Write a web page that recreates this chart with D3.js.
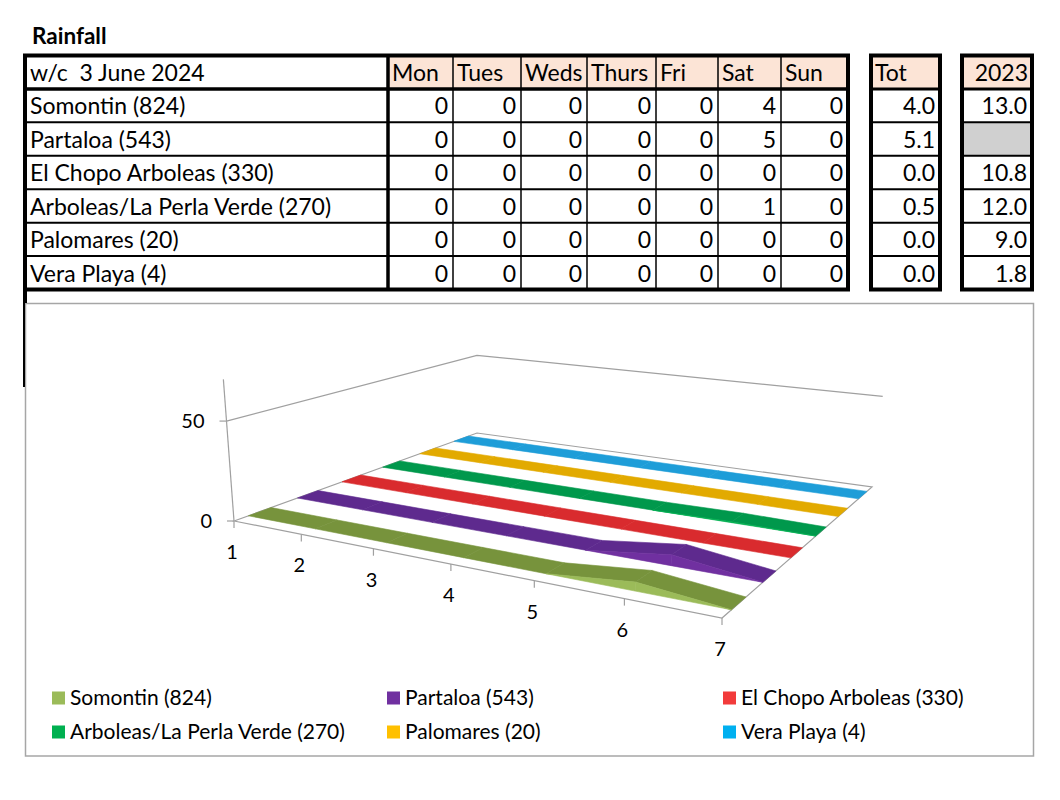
<!DOCTYPE html>
<html>
<head>
<meta charset="utf-8">
<script src="https://cdn.jsdelivr.net/npm/d3@7"></script>
<style>
  body { margin: 0; background: #fff; }
  svg text { font-family: Lato, "Open Sans", sans-serif; fill: #000; }
</style>
</head>
<body>
<svg id="chart" width="1060" height="800"></svg>
<script>
// ---- data (daily cells are shown rounded to whole mm) ----
const days = ["Mon", "Tues", "Weds", "Thurs", "Fri", "Sat", "Sun"];
const stations = ["Somontin (824)", "Partaloa (543)", "El Chopo Arboleas (330)",
  "Arboleas/La Perla Verde (270)", "Palomares (20)", "Vera Playa (4)"];
const somontin  = [0, 0, 0, 0, 0, 4.0, 0];
const partaloa  = [0, 0, 0, 0, 0, 5.1, 0];
const elChopo   = [0, 0, 0, 0, 0, 0, 0];
const arboleas  = [0, 0, 0, 0, 0, 0.5, 0];
const palomares = [0, 0, 0, 0, 0, 0, 0];
const veraPlaya = [0, 0, 0, 0, 0, 0, 0];
const weekTotals = [4.0, 5.1, 0.0, 0.5, 0.0, 0.0];
const totals2023 = [13.0, null, 10.8, 12.0, 9.0, 1.8];
const categoryLabels = ["1", "2", "3", "4", "5", "6", "7"];
const valueTicks = [0, 50];
const valueMax = 70;

const seriesValues = [somontin, partaloa, elChopo, arboleas, palomares, veraPlaya];
const legendColors = ["#9BBB59", "#7030A0", "#F23B3B", "#00B050", "#FFC000", "#00B0F0"];
const ribbonColors = ["#77933C", "#5E2A8E", "#D92B2E", "#00984C", "#E2AA00", "#1E9DD8"];

const svg = d3.select("#chart");
const fmtDay = d3.format(".0f"), fmtTot = d3.format(".1f");

svg.append("text").attr("x", 32).attr("y", 44)
  .style("font-size", "22.5px").style("font-weight", "bold").text("Rainfall");

// ---- table ----
const dayEdges = [388, 453, 521, 587, 656, 718, 781, 848];
const tableLeft = 25;
const totBox = [871, 940];
const box2023 = [962, 1032];
const rowY = d3.scaleLinear().domain([0, 7]).range([55.5, 289.5]);
const headFill = "#FCE4D6";

// header fills
svg.selectAll(".dayhead").data(days).enter().append("rect")
  .attr("x", (d, i) => dayEdges[i]).attr("y", rowY(0))
  .attr("width", (d, i) => dayEdges[i + 1] - dayEdges[i]).attr("height", rowY(1) - rowY(0))
  .attr("fill", headFill);
[totBox, box2023].forEach(b => {
  svg.append("rect").attr("x", b[0]).attr("y", rowY(0))
    .attr("width", b[1] - b[0]).attr("height", rowY(1) - rowY(0)).attr("fill", headFill);
});
// empty 2023 cell is greyed
totals2023.forEach((v, i) => {
  if (v === null) {
    svg.append("rect").attr("x", box2023[0]).attr("y", rowY(i + 1))
      .attr("width", box2023[1] - box2023[0]).attr("height", rowY(i + 2) - rowY(i + 1))
      .attr("fill", "#D0D0D0");
  }
});

// chart frame (drawn before the stray table border so that stays on top)
svg.append("rect").attr("x", 25.5).attr("y", 303.5).attr("width", 1008).attr("height", 452.5)
  .attr("fill", "#fff").attr("stroke", "#A6A6A6").attr("stroke-width", 1.5);

const lines = svg.append("g").attr("stroke", "#000").attr("fill", "none");
function hline(x1, x2, y, w) {
  lines.append("line").attr("x1", x1).attr("x2", x2).attr("y1", y).attr("y2", y).attr("stroke-width", w);
}
function vline(x, y1, y2, w) {
  lines.append("line").attr("x1", x).attr("x2", x).attr("y1", y1).attr("y2", y2).attr("stroke-width", w);
}
// main table grid
for (let r = 2; r < 7; r++) hline(tableLeft, dayEdges[7], rowY(r), 2);
hline(tableLeft, dayEdges[7], rowY(1), 3.5);
for (let c = 1; c < 7; c++) vline(dayEdges[c], rowY(0), rowY(7), 1.5);
vline(dayEdges[0], rowY(0), rowY(7), 3.5);
lines.append("rect").attr("x", tableLeft).attr("y", rowY(0))
  .attr("width", dayEdges[7] - tableLeft).attr("height", rowY(7) - rowY(0)).attr("stroke-width", 4);
vline(tableLeft, rowY(7), 303, 4);
vline(24, 303, 387, 2);
// Tot and 2023 boxes
[totBox, box2023].forEach(b => {
  for (let r = 2; r < 7; r++) hline(b[0], b[1], rowY(r), 2);
  hline(b[0], b[1], rowY(1), 3);
  lines.append("rect").attr("x", b[0]).attr("y", rowY(0))
    .attr("width", b[1] - b[0]).attr("height", rowY(7) - rowY(0)).attr("stroke-width", 4);
});

// table texts
const tfs = "23px";
const base = i => rowY(i) + 25.5;
svg.append("text").attr("x", 30).attr("y", base(0)).style("font-size", tfs)
  .style("white-space", "pre").text("w/c  3 June 2024");
svg.selectAll(".dayname").data(days).enter().append("text")
  .attr("x", (d, i) => dayEdges[i] + 4).attr("y", base(0)).style("font-size", tfs).text(d => d);
svg.append("text").attr("x", totBox[0] + 4).attr("y", base(0)).style("font-size", tfs).text("Tot");
svg.append("text").attr("x", box2023[1] - 4).attr("y", base(0)).attr("text-anchor", "end")
  .style("font-size", tfs).text("2023");

const rows = svg.selectAll(".row").data(stations).enter().append("g");
rows.append("text").attr("x", 30).attr("y", (d, i) => base(i + 1)).style("font-size", tfs).text(d => d);
rows.each(function (d, i) {
  d3.select(this).selectAll(".val").data(seriesValues[i]).enter().append("text")
    .attr("x", (v, j) => dayEdges[j + 1] - 5).attr("y", base(i + 1))
    .attr("text-anchor", "end").style("font-size", tfs).text(v => fmtDay(v));
  d3.select(this).append("text").attr("x", totBox[1] - 5).attr("y", base(i + 1))
    .attr("text-anchor", "end").style("font-size", tfs).text(fmtTot(weekTotals[i]));
  if (totals2023[i] !== null) {
    d3.select(this).append("text").attr("x", box2023[1] - 5).attr("y", base(i + 1))
      .attr("text-anchor", "end").style("font-size", tfs).text(fmtTot(totals2023[i]));
  }
});

// ---- 3D line chart ----
// floor corners on screen: u runs along the days, w runs back through the series
const FL = [234, 521], FR = [722, 618], BR = [872, 487], BL = [477, 433];
const dx1 = FR[0] - BR[0], dx2 = BL[0] - BR[0], dx3 = FL[0] - FR[0] + BR[0] - BL[0];
const dy1 = FR[1] - BR[1], dy2 = BL[1] - BR[1], dy3 = FL[1] - FR[1] + BR[1] - BL[1];
const det = dx1 * dy2 - dx2 * dy1;
const g = (dx3 * dy2 - dx2 * dy3) / det;
const h = (dx1 * dy3 - dx3 * dy1) / det;
const a = FR[0] - FL[0] + g * FR[0], b = BL[0] - FL[0] + h * BL[0], c = FL[0];
const d_ = FR[1] - FL[1] + g * FR[1], e = BL[1] - FL[1] + h * BL[1], f = FL[1];
// verticals meet far below (camera looks down)
const VP = [480, 3800];
const distFL = Math.hypot(VP[0] - FL[0], VP[1] - FL[1]);
const kTop = -(142 / distFL);          // full value axis is ~142px tall at the front corner
const sH = kTop / (1 - kTop);

function project(u, v, w) {
  const den = g * u + h * w + 1;
  const xf = (a * u + b * w + c) / den, yf = (d_ * u + e * w + f) / den;
  const t = v * sH / den, k = t / (1 + t);
  return [xf + k * (VP[0] - xf), yf + k * (VP[1] - yf)];
}

const uScale = d3.scalePoint().domain(d3.range(7)).range([0, 1]);
const wScale = d3.scaleBand().domain(stations).range([0, 1]).paddingInner(0.55).paddingOuter(0.275);
const yScale = d3.scaleLinear().domain([0, valueMax]).range([0, 1]);
const poly = d3.line();

const chart = svg.append("g");
const gridColor = "#A0A0A0";

// gridline at 50 on the side and back walls
const g50 = yScale(50);
chart.append("path").attr("d", poly([project(0, g50, 0), project(0, g50, 1), project(1, g50, 1)]))
  .attr("fill", "none").attr("stroke", gridColor).attr("stroke-width", 1.2);
// floor outline
chart.append("path").attr("d", poly([project(0, 0, 0), project(1, 0, 0), project(1, 0, 1), project(0, 0, 1)]) + "Z")
  .attr("fill", "none").attr("stroke", gridColor).attr("stroke-width", 1.2);
// value axis
chart.append("path").attr("d", poly([project(0, 0, 0), project(0, 1, 0)]))
  .attr("stroke", gridColor).attr("stroke-width", 1.2);
valueTicks.forEach(t => {
  const p = project(0, yScale(t), 0);
  chart.append("line").attr("x1", p[0] - 7).attr("x2", p[0]).attr("y1", p[1]).attr("y2", p[1])
    .attr("stroke", gridColor).attr("stroke-width", 1.2);
  chart.append("text").attr("x", p[0] - 22).attr("y", p[1]).attr("dy", "0.35em")
    .attr("text-anchor", "end").style("font-size", "20px").text(t);
});
// category axis ticks and labels
categoryLabels.forEach((lab, i) => {
  const p = project(uScale(i), 0, 0);
  chart.append("line").attr("x1", p[0]).attr("x2", p[0]).attr("y1", p[1]).attr("y2", p[1] + 7)
    .attr("stroke", gridColor).attr("stroke-width", 1.2);
  chart.append("text").attr("x", p[0] - 2).attr("y", p[1] + 31).attr("dy", "0.35em")
    .attr("text-anchor", "middle").style("font-size", "20px").text(lab);
});

// ribbons, back to front
const bw = wScale.bandwidth();
for (let s = stations.length - 1; s >= 0; s--) {
  const vals = seriesValues[s];
  const w0 = wScale(stations[s]), w1 = w0 + bw;
  const gS = chart.append("g");
  for (let i = 0; i < vals.length - 1; i++) {
    const u0 = uScale(i), u1 = uScale(i + 1);
    const y0 = yScale(vals[i]), y1 = yScale(vals[i + 1]);
    gS.append("path")
      .attr("d", poly([project(u0, y0, w0), project(u1, y1, w0), project(u1, y1, w1), project(u0, y0, w1)]) + "Z")
      .attr("fill", ribbonColors[s]).attr("stroke", ribbonColors[s]).attr("stroke-width", 0.6);
  }
  for (let i = 0; i < vals.length - 1; i++) {
    if (vals[i] === 0 && vals[i + 1] === 0) continue;
    const u0 = uScale(i), u1 = uScale(i + 1);
    const y0 = yScale(vals[i]), y1 = yScale(vals[i + 1]);
    gS.append("path")
      .attr("d", poly([project(u0, 0, w0), project(u1, 0, w0), project(u1, y1, w0), project(u0, y0, w0)]) + "Z")
      .attr("fill", legendColors[s]).attr("stroke", legendColors[s]).attr("stroke-width", 0.6);
  }
}

// legend
const legCols = [52, 387, 723], legRows = [698, 732];
const leg = svg.selectAll(".leg").data(stations).enter().append("g")
  .attr("transform", (d, i) => `translate(${legCols[i % 3]},${legRows[Math.floor(i / 3)]})`);
leg.append("rect").attr("x", 0).attr("y", -6.5).attr("width", 13).attr("height", 13)
  .attr("fill", (d, i) => legendColors[i]);
leg.append("text").attr("x", 18).attr("dy", "0.35em").style("font-size", "21px").text(d => d);
</script>
</body>
</html>
